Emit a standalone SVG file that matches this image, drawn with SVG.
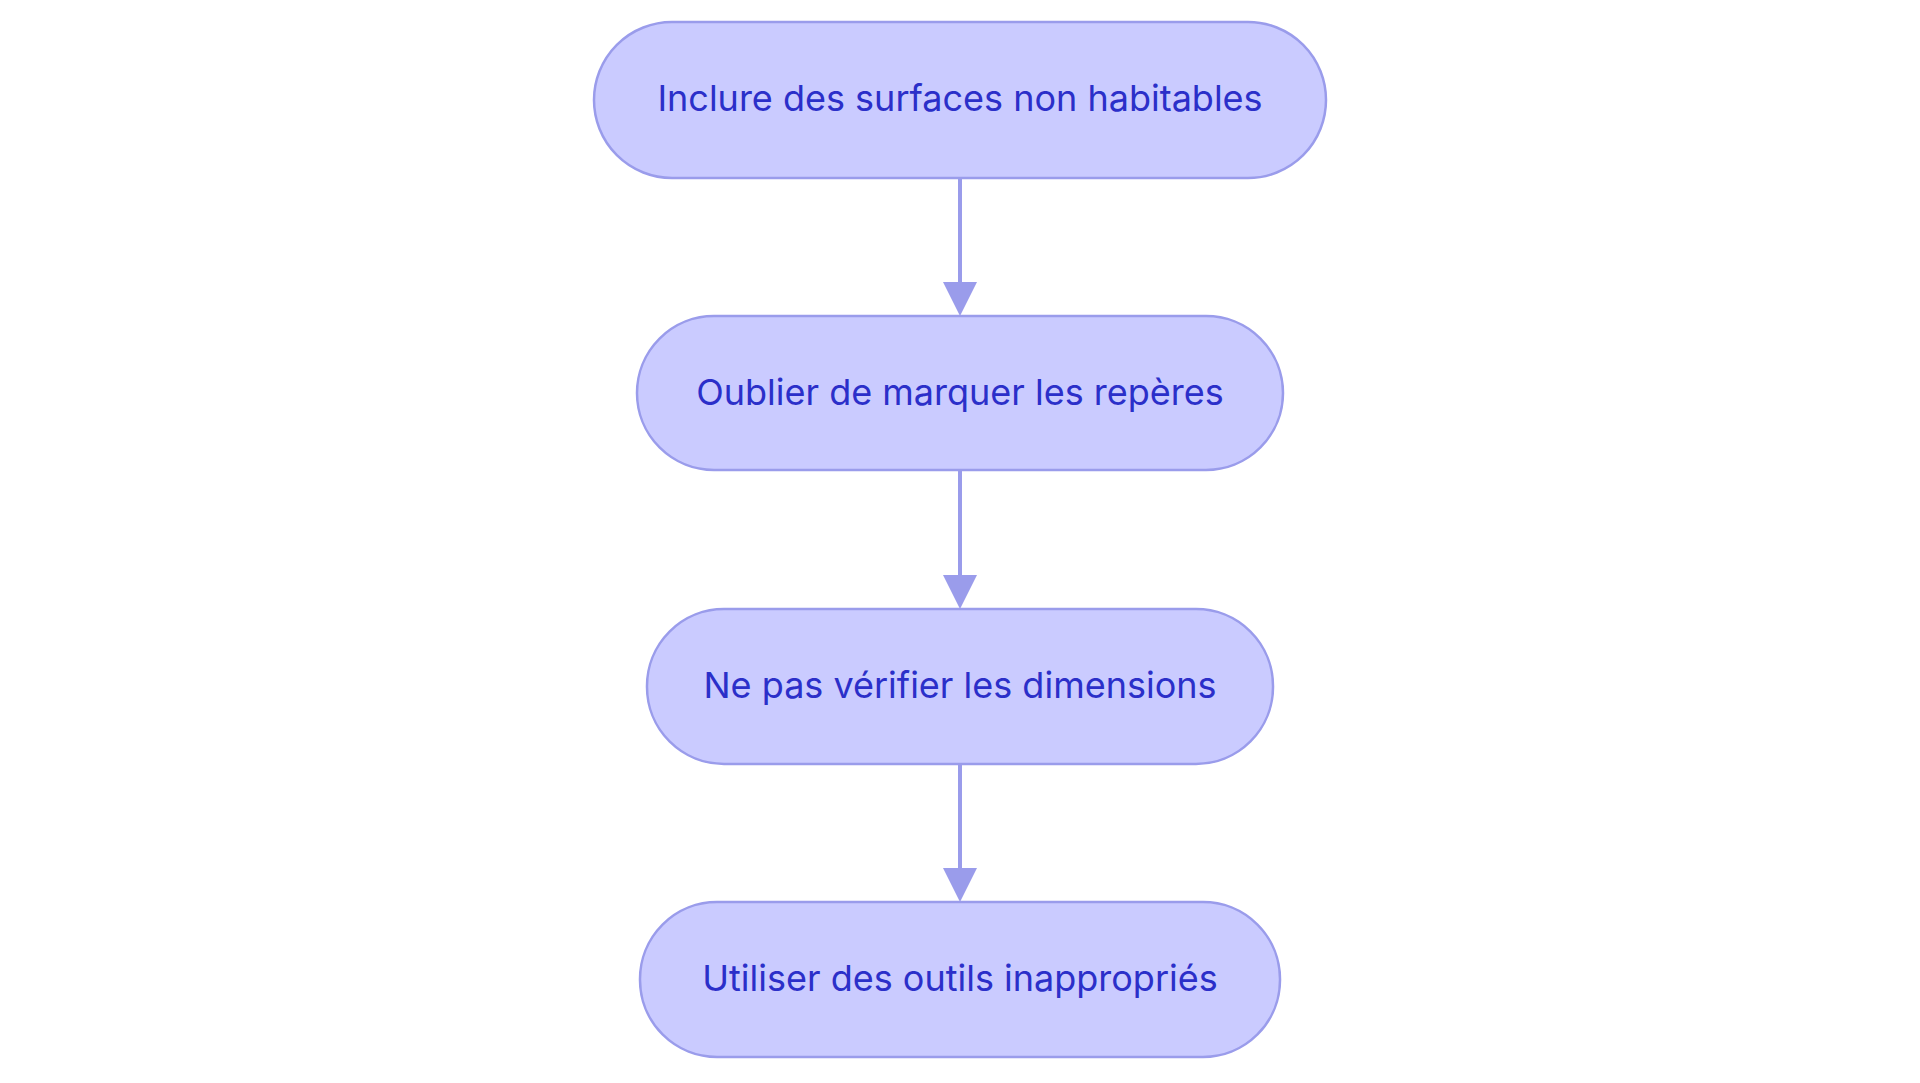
<svg xmlns="http://www.w3.org/2000/svg" width="1920" height="1083" viewBox="0 0 1920 1083">
<style>
.n{fill:#CACBFF;stroke:#9A9CEB;stroke-width:2.5}
.t{font-family:Inter,"Noto Sans",sans-serif;font-size:36px;fill:#2B2FC9;text-anchor:middle;dominant-baseline:central}
.c{stroke:#9A9CEB;stroke-width:4;fill:none}
</style>
<defs><marker id="a" markerWidth="10" markerHeight="10" refX="8" refY="5" orient="auto" markerUnits="userSpaceOnUse" viewBox="0 0 10 10"><path d="M0,0L10,5L0,10z" fill="#9A9CEB"/></marker></defs>
<rect width="1920" height="1083" fill="#fff"/>
<g id="connectors">
<path class="c" d="M960,178V282"/><path d="M943,282h34l-17,34z" fill="#9A9CEB"/>
<path class="c" d="M960,470V575"/><path d="M943,575h34l-17,34z" fill="#9A9CEB"/>
<path class="c" d="M960,764V868"/><path d="M943,868h34l-17,34z" fill="#9A9CEB"/>
</g>
<g id="n1"><rect class="n" x="594" y="22" width="732" height="156" rx="78"/><text class="t" x="960" y="98">Inclure des surfaces non habitables</text></g>
<g id="n2"><rect class="n" x="637" y="316" width="646" height="154" rx="77"/><text class="t" x="960" y="392">Oublier de marquer les repères</text></g>
<g id="n3"><rect class="n" x="647" y="609" width="626" height="155" rx="77"/><text class="t" x="960" y="685">Ne pas vérifier les dimensions</text></g>
<g id="n4"><rect class="n" x="640" y="902" width="640" height="155" rx="77"/><text class="t" x="960" y="978">Utiliser des outils inappropriés</text></g>
</svg>
